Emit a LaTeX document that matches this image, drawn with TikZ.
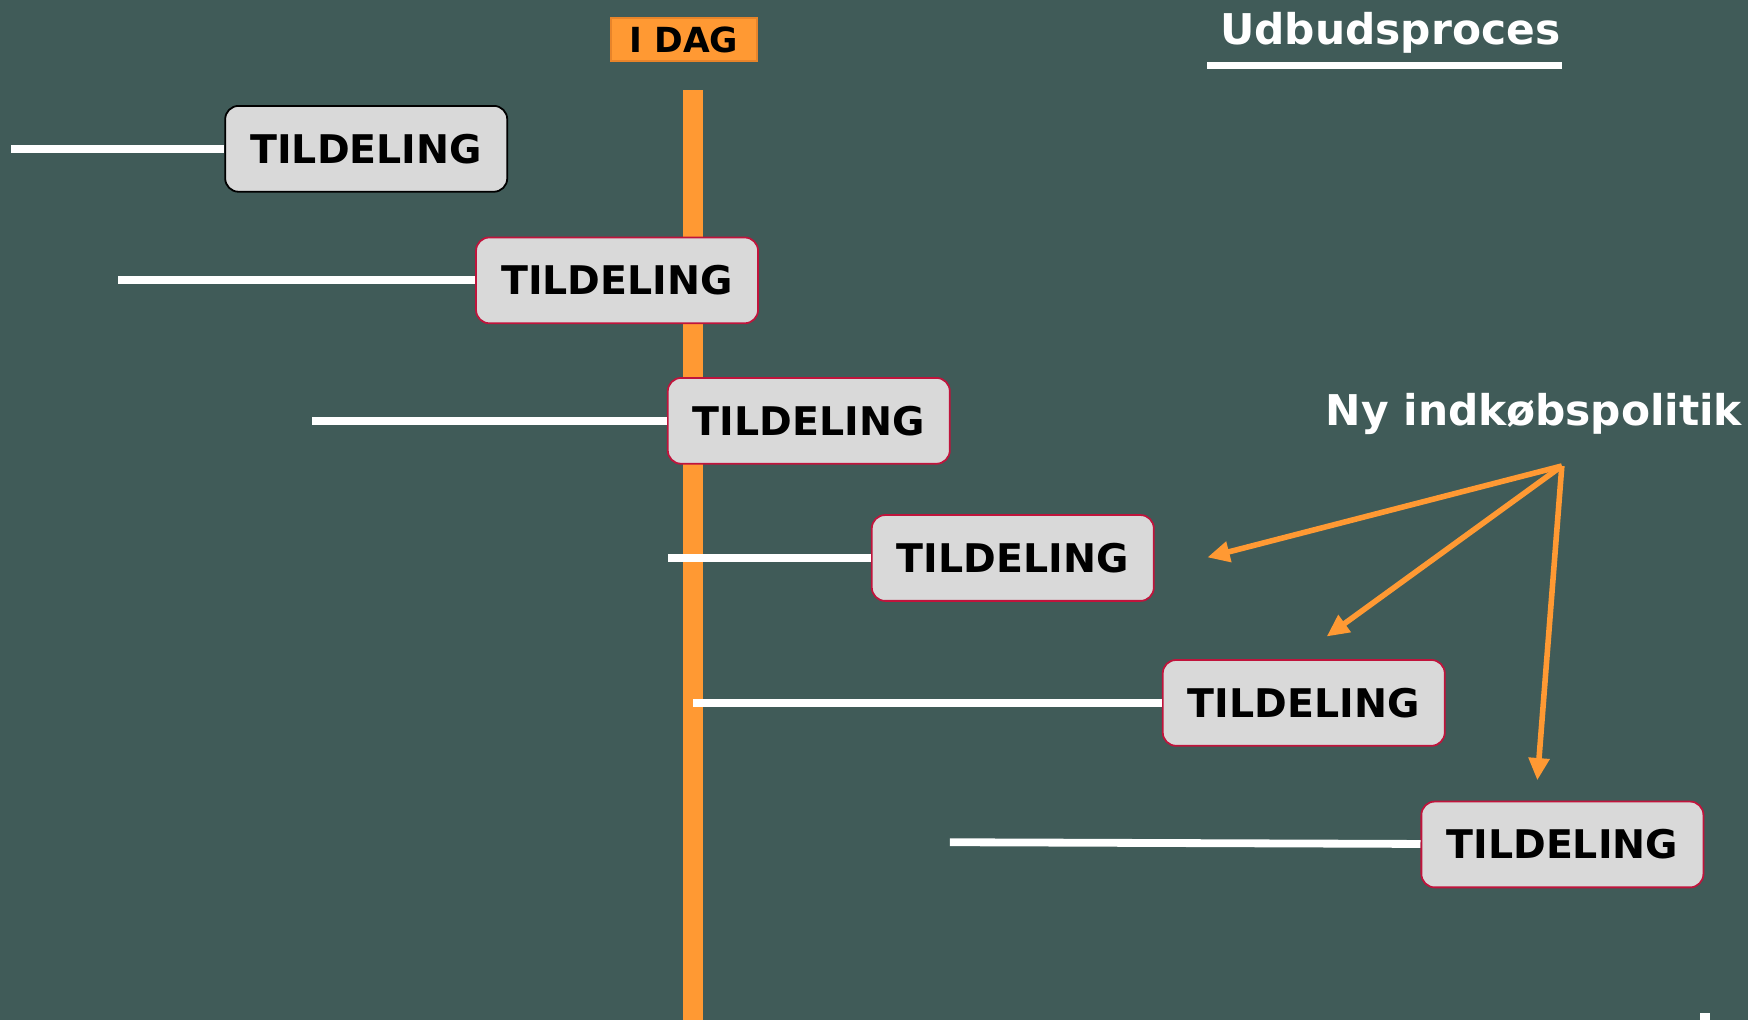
\documentclass[tikz,border=0pt]{standalone}
\usepackage{fontspec}
\setmainfont{DejaVu Sans}
\usetikzlibrary{arrows.meta}
\definecolor{bg}{HTML}{405B58}
\definecolor{og}{HTML}{FF9933}
\definecolor{ogline}{HTML}{E8842A}
\definecolor{boxfill}{HTML}{D9D9D9}
\definecolor{boxline}{HTML}{C0143C}
\begin{document}
\begin{tikzpicture}[x=0.5pt,y=-0.5pt,thick,
  tbox/.style={draw=boxline,fill=boxfill,rounded corners=6pt,minimum width=126.5pt,minimum height=38.5pt,inner sep=0pt,font=\bfseries\fontsize{17.7}{17.7}\selectfont},
  wline/.style={white,line width=3.5pt},
  oarrow/.style={og,line width=2.5pt,-{Triangle[length=10pt,width=9pt]}},
  wtext/.style={white,font=\bfseries\fontsize{19}{19}\selectfont,anchor=base}]
          \fill[bg] (0,0) rectangle (1568,915);
          \useasboundingbox (0,0) rectangle (1568,915);
          % today line
          \coordinate (top) at (622,81);
          \coordinate (bot) at (622,915);
          \draw[og,line width=9pt] (top) -- (bot);
          \node[fill=og,draw=ogline,minimum width=65.5pt,minimum height=19.5pt,inner sep=0pt,font=\bfseries\fontsize{15.5}{15.5}\selectfont] (idag) at (613.5,35.5) {I DAG};
          % title
          \node[wtext] (title) at (1247,40) {Udbudsproces};
          \coordinate (ul_a) at (1083,59);
          \coordinate (ul_b) at (1401,59);
          \draw[white,line width=3pt] (ul_a) -- (ul_b);
          % boxes
          \node[tbox,draw=black] (t_1) at (328.5,133.5) {TILDELING};
          \node[tbox] (t_2) at (553.5,251.5) {TILDELING};
          \node[tbox] (t_3) at (725.5,377.5) {TILDELING};
          \node[tbox] (t_4) at (908.5,500.5) {TILDELING};
          \node[tbox] (t_5) at (1169.5,630.5) {TILDELING};
          \node[tbox] (t_6) at (1401.5,757.5) {TILDELING};
          % start of each line
          \coordinate (s_1) at (10,133.5);
          \coordinate (s_2) at (106,251.5);
          \coordinate (s_3) at (280,377.5);
          \coordinate (s_4) at (599,500.5);
          \coordinate (s_5) at (622,630.5);
          \coordinate (s_6) at (852,755.5);
          \draw[wline] (s_1) -- (t_1);
          \draw[wline] (s_2) -- (t_2);
          \draw[wline] (s_3) -- (t_3);
          \draw[wline] (s_4) -- (t_4);
          \draw[wline] (s_5) -- (t_5);
          \draw[wline] (s_6) -- (t_6);
          % policy arrows
          \node[wtext] (ny) at (1376,382) {Ny indkøbspolitik};
          \coordinate (src) at (1401,418);
          \coordinate (a_1) at (1083,500);
          \coordinate (a_2) at (1190,571);
          \coordinate (a_3) at (1379,700);
          \draw[oarrow] (src) -- (a_1);
          \draw[oarrow] (src) -- (a_2);
          \draw[oarrow] (src) -- (a_3);
          \fill[white] (1525,909) rectangle (1534,915);
\end{tikzpicture}
\end{document}
